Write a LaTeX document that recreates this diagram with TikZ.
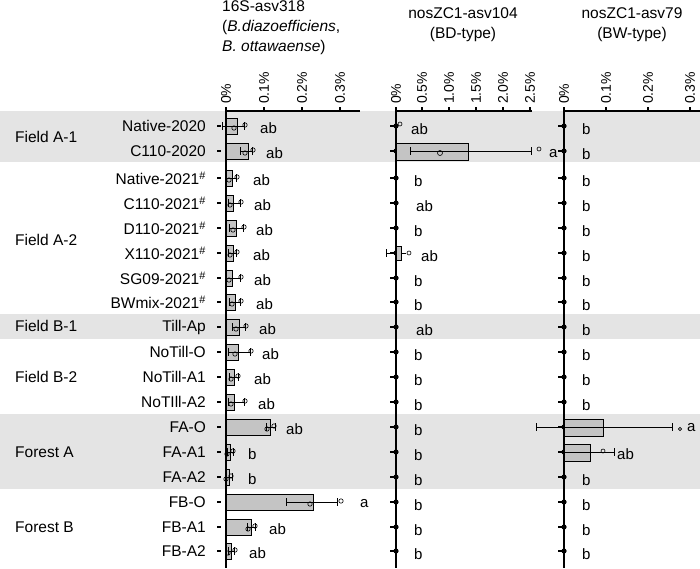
\documentclass[tikz,border=0pt]{standalone}
\usepackage{fontspec}
\setmainfont{Liberation Sans}
\definecolor{band}{HTML}{E4E4E4}
\definecolor{barc}{HTML}{C4C4C4}
\tikzset{
  lab/.style={font=\fontsize{15.5}{17}\selectfont, inner sep=0pt},
  let/.style={font=\fontsize{15}{17}\selectfont, inner sep=0pt, anchor=west},
  tick/.style={font=\fontsize{14}{16}\selectfont, inner sep=0pt, rotate=90, anchor=west},
  ttl/.style={font=\fontsize{15.5}{20}\selectfont, inner sep=0pt, align=center},
  barbox/.style={draw=black, fill=barc, line width=1pt},
  err/.style={line width=1pt},
  pt/.style={draw=black, line width=0.6pt, fill=none},
  axis/.style={line width=1.2pt}
}
\begin{document}
\begin{tikzpicture}[x=1pt,y=-1pt]
\useasboundingbox (0,0) rectangle (700,568);
% bands
\fill[band] (0,111) rectangle (700,162);
\fill[band] (0,314) rectangle (700,339);
\fill[band] (0,414) rectangle (700,489);
% titles
\node[ttl, anchor=north west, align=left] (t1) at (222,0) {16S-asv318\\(\textit{B.diazoefficiens},\\\textit{B. ottawaense})};
\node[ttl, anchor=north] (t2) at (463,7) {nosZC1-asv104\\(BD-type)};
\node[ttl, anchor=north] (t3) at (632,7) {nosZC1-asv79\\(BW-type)};
% axes
\draw[axis] (226,111) -- (360,111);
\draw[axis] (226,111) -- (226,568);
\foreach \x/\t in {226/0\%,264/0.1\%,302/0.2\%,340/0.3\%}{
  \draw[axis] (\x,111) -- (\x,107);
  \node[tick] at (\x,104) {\t};}
\draw[axis] (396,111) -- (532,111);
\draw[axis] (396,111) -- (396,568);
\foreach \x/\t in {396/0\%,422/0.5\%,449/1.0\%,476/1.5\%,503/2.0\%,530/2.5\%}{
  \draw[axis] (\x,111) -- (\x,107);
  \node[tick] at (\x,104) {\t};}
\draw[axis] (564,111) -- (700,111);
\draw[axis] (564,111) -- (564,568);
\foreach \x/\t in {564/0\%,606/0.1\%,648/0.2\%,690/0.3\%}{
  \draw[axis] (\x,111) -- (\x,107);
  \node[tick] at (\x,104) {\t};}
% group labels
\foreach \y/\t in {137/Field A-1,240/Field A-2,326/Field B-1,377/Field B-2,452/Forest A,527/Forest B}
  \node[lab, anchor=west] at (15,\y) {\t};
% row labels
\foreach \y/\t in {126/Native-2020,151/C110-2020,178/Native-2021\textsuperscript{\#},203/C110-2021\textsuperscript{\#},228/D110-2021\textsuperscript{\#},253/X110-2021\textsuperscript{\#},278/SG09-2021\textsuperscript{\#},302/BWmix-2021\textsuperscript{\#},327/Till-Ap,352/NoTill-O,377/NoTill-A1,402/NoTIll-A2,427/FA-O,452/FA-A1,477/FA-A2,502/FB-O,527/FB-A1,551/FB-A2}
  \node[lab, anchor=east] at (206,\y) {\t};
% panel 1 data
\foreach \y/\b/\lo/\hi/\l/\lx/\p in {
126/237/222/244/ab/260/245,151/248/240/252/ab/266/253,178/232/226/236/ab/253/237,
203/233/228/240/ab/254/241,228/236/229/243/ab/256/244,253/233/228/236/ab/253/237,
278/232/226/240/ab/254/241,302/235/229/240/ab/256/241,327/239/232/245/ab/259/246,
352/238/228/250/ab/262/251,377/234/229/238/ab/254/238,402/234/228/244/ab/258/245,
427/270/266/275/ab/286/274,452/230/227/233/b/248/233,477/229/226/232/b/248/231,
502/313/286/337/a/360/341,527/251/247/255/ab/269/255,551/231/228/234/ab/249/235}{
  \draw[line width=2pt] (217,\y) -- (221,\y);
  \draw[barbox] (226,\y-8) rectangle (\b,\y+8);
  \draw[err] (\lo,\y) -- (\hi,\y) (\lo,\y-4) -- (\lo,\y+4) (\hi,\y-4) -- (\hi,\y+4);
  \draw[pt] (\p,\y-1) circle (2.2) (\b-3,\y+2) circle (2.2);
  \node[let] at (\lx,\y+2) {\l};
}
% panel 2 & 3 baseline points and letters
\foreach \y/\la/\xa in {126/ab/411,151/a/549,178/b/414,203/ab/416,228/b/414,253/ab/421,278/b/414,302/b/414,327/ab/416,352/b/414,377/b/414,402/b/414,427/b/414,452/b/414,477/b/414,502/b/414,527/b/414,551/b/414}{
  \draw[line width=2pt] (390,\y) -- (394,\y);
  \draw[line width=2pt] (558,\y) -- (562,\y);
  \fill (396,\y) circle (2.6);
  \fill (564,\y) circle (2.6);
  \node[let] at (\xa,\y+3) {\la};
}
\foreach \y in {126,151,178,203,228,253,278,302,327,352,377,402,477,502,527,551}
  \node[let] at (582,\y+3) {b};
% special bars panel 2
\draw[barbox] (396,143) rectangle (468,160);
\draw[err] (410,151) -- (531,151) (410,147) -- (410,155) (531,147) -- (531,155);
\draw[pt] (539,149) circle (2) (440,153) circle (2.5);
\draw[pt] (400,124) circle (2);
\draw[err] (386,253) -- (406,253) (386,249) -- (386,257);
\draw[barbox] (396,246) rectangle (401,260);
\draw[pt] (409,253) circle (2);
% special bars panel 3
\draw[barbox] (564,419) rectangle (603,436);
\draw[err] (536,427) -- (672,427) (536,423) -- (536,431) (672,423) -- (672,431);
\draw[pt] (680,429) circle (1.6);
\node[let] at (687,428) {a};
\draw[barbox] (564,444) rectangle (590,461);
\draw[err] (565,452) -- (614,452) (614,448) -- (614,456);
\draw[pt] (603,451) circle (2);
\node[let] at (617,454) {ab};
\end{tikzpicture}
\end{document}
